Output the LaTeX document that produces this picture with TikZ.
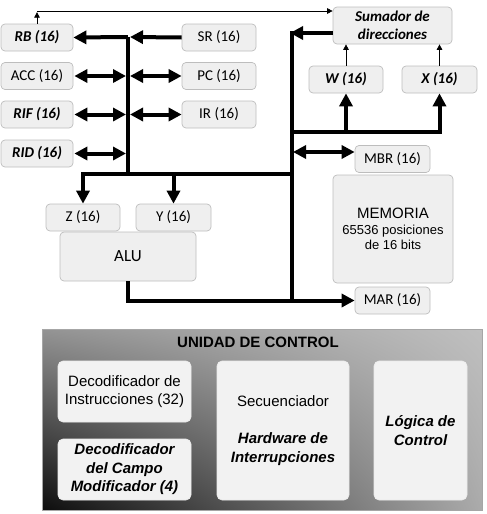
\documentclass[tikz,border=0pt]{standalone}
\usepackage{fontspec}
\setmainfont{Carlito}
\newfontfamily\arialf{Liberation Sans}
\usetikzlibrary{arrows.meta,calc,shadings}
\definecolor{boxfill}{HTML}{EFEFEF}
\definecolor{boxline}{HTML}{BDBDBD}
\definecolor{cfill}{HTML}{F2F2F2}
\begin{document}
\begin{tikzpicture}[x=1pt,y=-1pt,
  reg/.style={draw=boxline, fill=boxfill, rounded corners=4pt, line width=0.7pt,
    inner sep=0pt, align=center, font=\fontsize{15}{18}\selectfont},
  bi/.style={font=\fontsize{15}{18}\selectfont\bfseries\itshape},
  bus/.style={line width=4pt, line join=miter},
  ar/.style={bus, -{Triangle[length=13pt,width=13pt]}},
  dar/.style={bus, {Triangle[length=13pt,width=13pt]}-{Triangle[length=13pt,width=13pt]}},
  thinar/.style={line width=0.8pt, -{Triangle[length=5.5pt,width=5.5pt]}},
  cbox/.style={draw=white!85!gray, fill=cfill, rounded corners=5pt, line width=0.6pt,
    inner sep=0pt, align=center, font=\arialf\fontsize{15}{18.5}\selectfont},
]
\useasboundingbox (0,0) rectangle (487,514);

% registers left
\node[reg, bi, minimum width=72, minimum height=27] (RB) at (37,37.5) {RB (16)};
\node[reg, minimum width=72, minimum height=27] (ACC) at (37,76) {ACC (16)};
\node[reg, bi, minimum width=72, minimum height=27] (RIF) at (37,114.5) {RIF (16)};
\node[reg, bi, minimum width=72, minimum height=27] (RID) at (37,153.5) {RID (16)};
\node[reg, minimum width=74, minimum height=27] (SR) at (219,37.5) {SR (16)};
\node[reg, minimum width=74, minimum height=27] (PC) at (219,76) {PC (16)};
\node[reg, minimum width=74, minimum height=27] (IR) at (219,114.5) {IR (16)};

% right side
\node[reg, bi, minimum width=119, minimum height=37] (Sum) at (392.5,25.5) {Sumador de\\direcciones};
\node[reg, bi, minimum width=74, minimum height=27] (W) at (346,79.5) {W (16)};
\node[reg, bi, minimum width=75, minimum height=27] (X) at (439.5,79.5) {X (16)};
\node[reg, minimum width=75, minimum height=27] (MBR) at (392.5,159) {MBR (16)};
\node[reg, minimum width=120, minimum height=108] (MEM) at (393,229)
  {\arialf\fontsize{15}{19}\selectfont MEMORIA\\[-2pt]{\arialf\fontsize{13}{14.5}\selectfont 65536 posiciones}\\[-3pt]{\arialf\fontsize{13}{14.5}\selectfont de 16 bits}};
\node[reg, minimum width=75, minimum height=27] (MAR) at (392.5,300.5) {MAR (16)};

% ALU
\node[reg, minimum width=74, minimum height=27] (Z) at (83,217.5) {Z (16)};
\node[reg, minimum width=75, minimum height=27] (Y) at (173.5,217.5) {Y (16)};
\node[reg, minimum width=136, minimum height=49, font=\fontsize{17}{20}\selectfont] (ALU) at (128,256.5) {ALU};

% bus coordinates
\coordinate (lbT) at (128,37);
\coordinate (lbB) at (128,174);
\coordinate (hbR) at (292,174);
\coordinate (rbT) at (292,31);
\coordinate (rbB) at (292,301);
\coordinate (sumIn) at (290,33);
\coordinate (wxL) at (292,132);
\coordinate (mbrL) at (293,152);
\coordinate (tl) at (37,11);

% left bus
\draw[bus] (lbT) -- (lbB);
\draw[ar] (lbT) -- (RB.east);
\draw[ar] (SR.west) -- ($(lbT)+(2,0)$);
\draw[dar] ($(ACC.east)+(1,0)$) -- ($(lbT |- ACC.east)+(-2,0)$);
\draw[dar] ($(lbT |- PC.west)+(2,0)$) -- (PC.west);
\draw[dar] ($(RIF.east)+(1,0)$) -- ($(lbT |- RIF.east)+(-2,0)$);
\draw[dar] ($(lbT |- IR.west)+(2,0)$) -- (IR.west);
\draw[dar] ($(RID.east)+(1,0)$) -- ($(lbT |- RID.east)+(-2,0)$);

% horizontal bus and ALU inputs
\draw[ar] (hbR) -| (Z.north);
\draw[ar] (Y.north |- hbR) -- (Y.north);

% right bus
\draw[bus] (rbT) -- (rbB);
\draw[ar] ([yshift=-7.5pt]Sum.west) -- (sumIn);
\draw[ar] (wxL) -| (X.south);
\draw[ar] (W.south |- wxL) -- (W.south);
\draw[dar] (mbrL) -- (MBR.west |- mbrL);
\draw[ar] (ALU.south) |- (MAR.west);

% thin arrows
\draw[thinar] (W.north) -- (W.north |- Sum.south);
\draw[thinar] (X.north) -- (X.north |- Sum.south);
\draw[thinar] (RB.north) -- ++(0,-11.5);
\draw[thinar] (tl) -- (tl -| Sum.west);

% control unit
\node[draw=gray!70, line width=0.5pt, inner sep=0pt, minimum width=440, minimum height=181,
  lower left=black!95, upper left=black!42, upper right=black!25, lower right=black!33]
  (CU) at (262,419.5) {};
\node[font=\arialf\fontsize{15}{18}\selectfont\bfseries] (CUt) at (258,342) {UNIDAD DE CONTROL};
\node[cbox, minimum width=133, minimum height=61] (DI) at (124.5,391.5)
  {Decodificador de\\Instrucciones (32)};
\node[cbox, minimum width=133, minimum height=61] (DC) at (124.5,469.5)
  {\bfseries\itshape Decodificador\\\bfseries\itshape del Campo\\\bfseries\itshape Modificador (4)};
\node[cbox, minimum width=132, minimum height=139] (SEC) at (283,430.5)
  {Secuenciador\\[18.5pt]\bfseries\itshape Hardware de\\\bfseries\itshape Interrupciones};
\node[cbox, minimum width=93, minimum height=139] (LOG) at (420.5,430.5)
  {\bfseries\itshape Lógica de\\\bfseries\itshape Control};
\end{tikzpicture}
\end{document}
